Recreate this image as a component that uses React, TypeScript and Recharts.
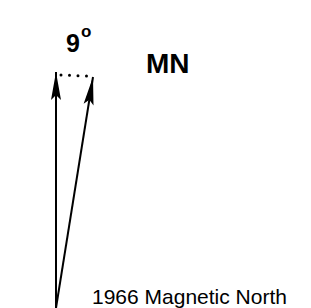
import { ScatterChart, Scatter, XAxis, YAxis, Customized } from "recharts";

// screen-ish units: 1 unit = 1 px, y measured up from the bottom edge
const trueNorth = [
  { x: 56, y: 0 },
  { x: 56, y: 236 },
];
const magneticNorth = [
  { x: 56, y: 0 },
  { x: 93, y: 231 },
];
const arcDots = [
  { x: 61, y: 233 },
  { x: 87, y: 232 },
];
const declinationLabel = "9";
const mnLabel = "MN";
const captionLabel = "1966 Magnetic North";

const W = 311;
const H = 308;

function arrowHead(series: { x: number; y: number }[]) {
  return (props: any) => {
    const { cx, cy, index } = props;
    if (index !== series.length - 1) return <g />;
    const a = series[series.length - 2];
    const b = series[series.length - 1];
    const deg = (Math.atan2(b.x - a.x, b.y - a.y) * 180) / Math.PI;
    return (
      <path
        d="M0,0 L5,28 L0,23 L-5,28 Z"
        fill="#000"
        transform={`translate(${cx},${cy}) rotate(${deg})`}
      />
    );
  };
}

const Labels = () => (
  <g fontFamily="Arial, 'Liberation Sans', sans-serif" fill="#000">
    <text x={66} y={52} fontSize={25} fontWeight="bold">
      {declinationLabel}
    </text>
    <text x={81} y={37} fontSize={17} fontWeight="bold">
      o
    </text>
    <text x={146} y={73} fontSize={28} fontWeight="bold">
      {mnLabel}
    </text>
    <text x={92} y={304} fontSize={21}>
      {captionLabel}
    </text>
  </g>
);

export default function App() {
  return (
    <div style={{ position: "absolute", left: 0, top: 0, width: W, height: H, background: "#fff" }}>
      <ScatterChart width={W} height={H} margin={{ top: 0, right: 0, bottom: 0, left: 0 }}>
        <XAxis type="number" dataKey="x" domain={[0, W]} hide />
        <YAxis type="number" dataKey="y" domain={[0, H]} hide />
        <Scatter
          data={trueNorth}
          line={{ stroke: "#000", strokeWidth: 2 }}
          shape={arrowHead(trueNorth)}
          isAnimationActive={false}
        />
        <Scatter
          data={magneticNorth}
          line={{ stroke: "#000", strokeWidth: 2 }}
          shape={arrowHead(magneticNorth)}
          isAnimationActive={false}
        />
        <Scatter
          data={arcDots}
          line={{ stroke: "#000", strokeWidth: 3, strokeDasharray: "0 8.5", strokeLinecap: "round" }}
          shape={() => <g />}
          isAnimationActive={false}
        />
        <Customized component={Labels} />
      </ScatterChart>
    </div>
  );
}
